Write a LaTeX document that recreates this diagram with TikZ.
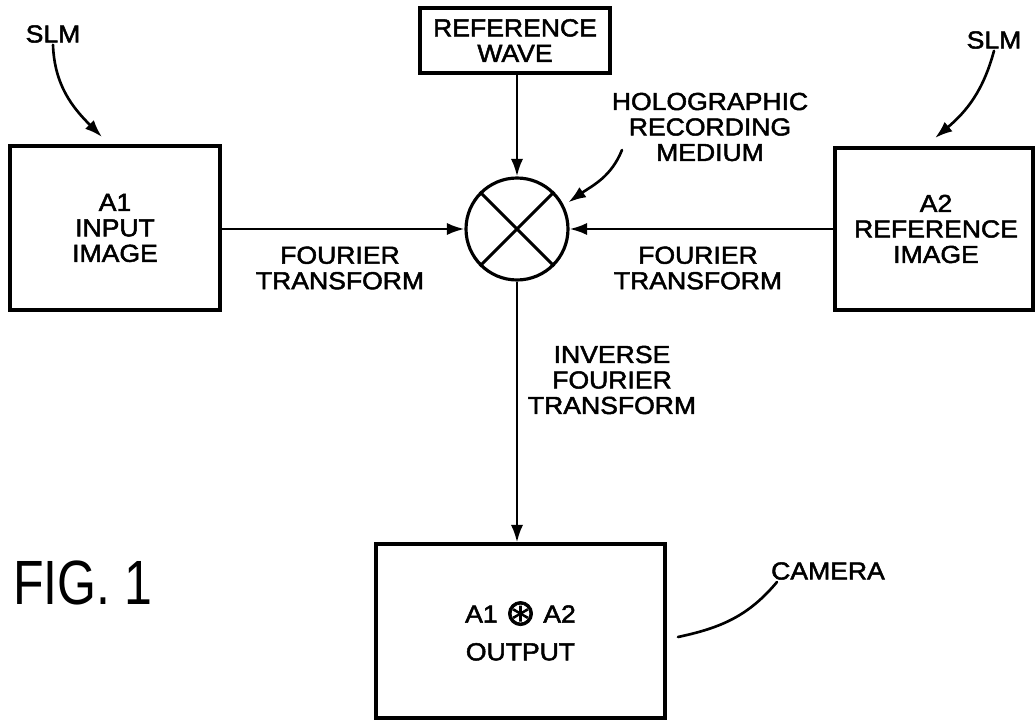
\documentclass[tikz,border=0pt]{standalone}
\usepackage{fontspec}
\setmainfont{Liberation Sans}[FakeStretch=1.08,FakeBold=2]
\newfontfamily\figfont{Liberation Sans}[FakeStretch=0.8]
\newfontfamily\symfnt{DejaVu Sans}[FakeBold=2]
\usetikzlibrary{arrows.meta}
\begin{document}
\begin{tikzpicture}[x=0.02cm,y=-0.02cm,
  lbl/.style={align=center,font=\fontsize{14}{14.5}\selectfont,inner sep=1pt},
  blk/.style={draw,line width=1.8pt,align=center,font=\fontsize{14}{14.5}\selectfont,inner sep=0pt},
  conn/.style={line width=1.5pt,-{Latex[length=10pt,width=7pt]}},
  lead/.style={line width=1.5pt,line cap=round}]
\useasboundingbox (0,0) rectangle (1035,722);
% boxes
\node[blk,minimum width=4.2cm,minimum height=3.28cm] (inp) at (115,228) {A1\\INPUT\\IMAGE};
\node[blk,minimum width=3.96cm,minimum height=3.24cm] (refimg) at (934,229) {\hspace*{0.08cm}A2\\\hspace*{0.08cm}REFERENCE\\\hspace*{0.08cm}IMAGE};
\node[blk,minimum width=3.8cm,minimum height=1.3cm] (wave) at (515,40.5) {REFERENCE\\WAVE};
\node[blk,minimum width=5.78cm,minimum height=3.48cm] (out) at (520.5,631)
  {A1 \raisebox{-1.5pt}{\symfnt\fontsize{21}{21}\selectfont ⊛} A2\\[7pt]OUTPUT};
% holographic medium
\node[draw,circle,line width=1.8pt,minimum size=2.04cm,inner sep=0pt] (circ) at (517,229) {};
\draw[line width=1.8pt] (circ.45) -- (circ.225) (circ.135) -- (circ.-45);
% labels
\node[lbl] (slmL) at (53,34) {SLM};
\node[lbl] (slmR) at (994,40) {SLM};
\node[lbl] (holo) at (710,127) {HOLOGRAPHIC\\RECORDING\\MEDIUM};
\node[lbl] (ftL) at (340,268) {FOURIER\\TRANSFORM};
\node[lbl] (ftR) at (698,268) {FOURIER\\TRANSFORM};
\node[lbl] (ift) at (612,380) {INVERSE\\FOURIER\\TRANSFORM};
\node[lbl] (cam) at (828,571) {CAMERA};
\node[font=\figfont\fontsize{35.6}{36}\selectfont,inner sep=0pt,anchor=north west] (fig) at (13,560) {FIG. 1};
% connectors
\draw[conn] (circ.north |- wave.south) -- (circ.north);
\draw[conn] (inp.east |- circ) -- (circ.west);
\draw[conn] (refimg.west |- circ) -- (circ.east);
\draw[conn] (circ.south) -- (circ.south |- out.north);
% leaders
\coordinate (tipL) at (102,137);
\coordinate (tipR) at (935,138);
\coordinate (hs) at (622,150);
\coordinate (cs) at (777,582);
\coordinate (ce) at (678,637);
\draw[lead,-{Latex[length=10pt,width=7pt]}] (slmL.south) to[out=-88,in=135] (tipL);
\draw[lead,-{Latex[length=10pt,width=7pt]}] (slmR.south) to[out=-105,in=40] (tipR);
\draw[lead,-{Latex[length=10pt,width=7pt]}] (hs) to[out=-112,in=35] ([shift={(5,-2)}]circ.28);
\draw[lead] (cs) to[out=-130,in=12] (ce);
\end{tikzpicture}
\end{document}
